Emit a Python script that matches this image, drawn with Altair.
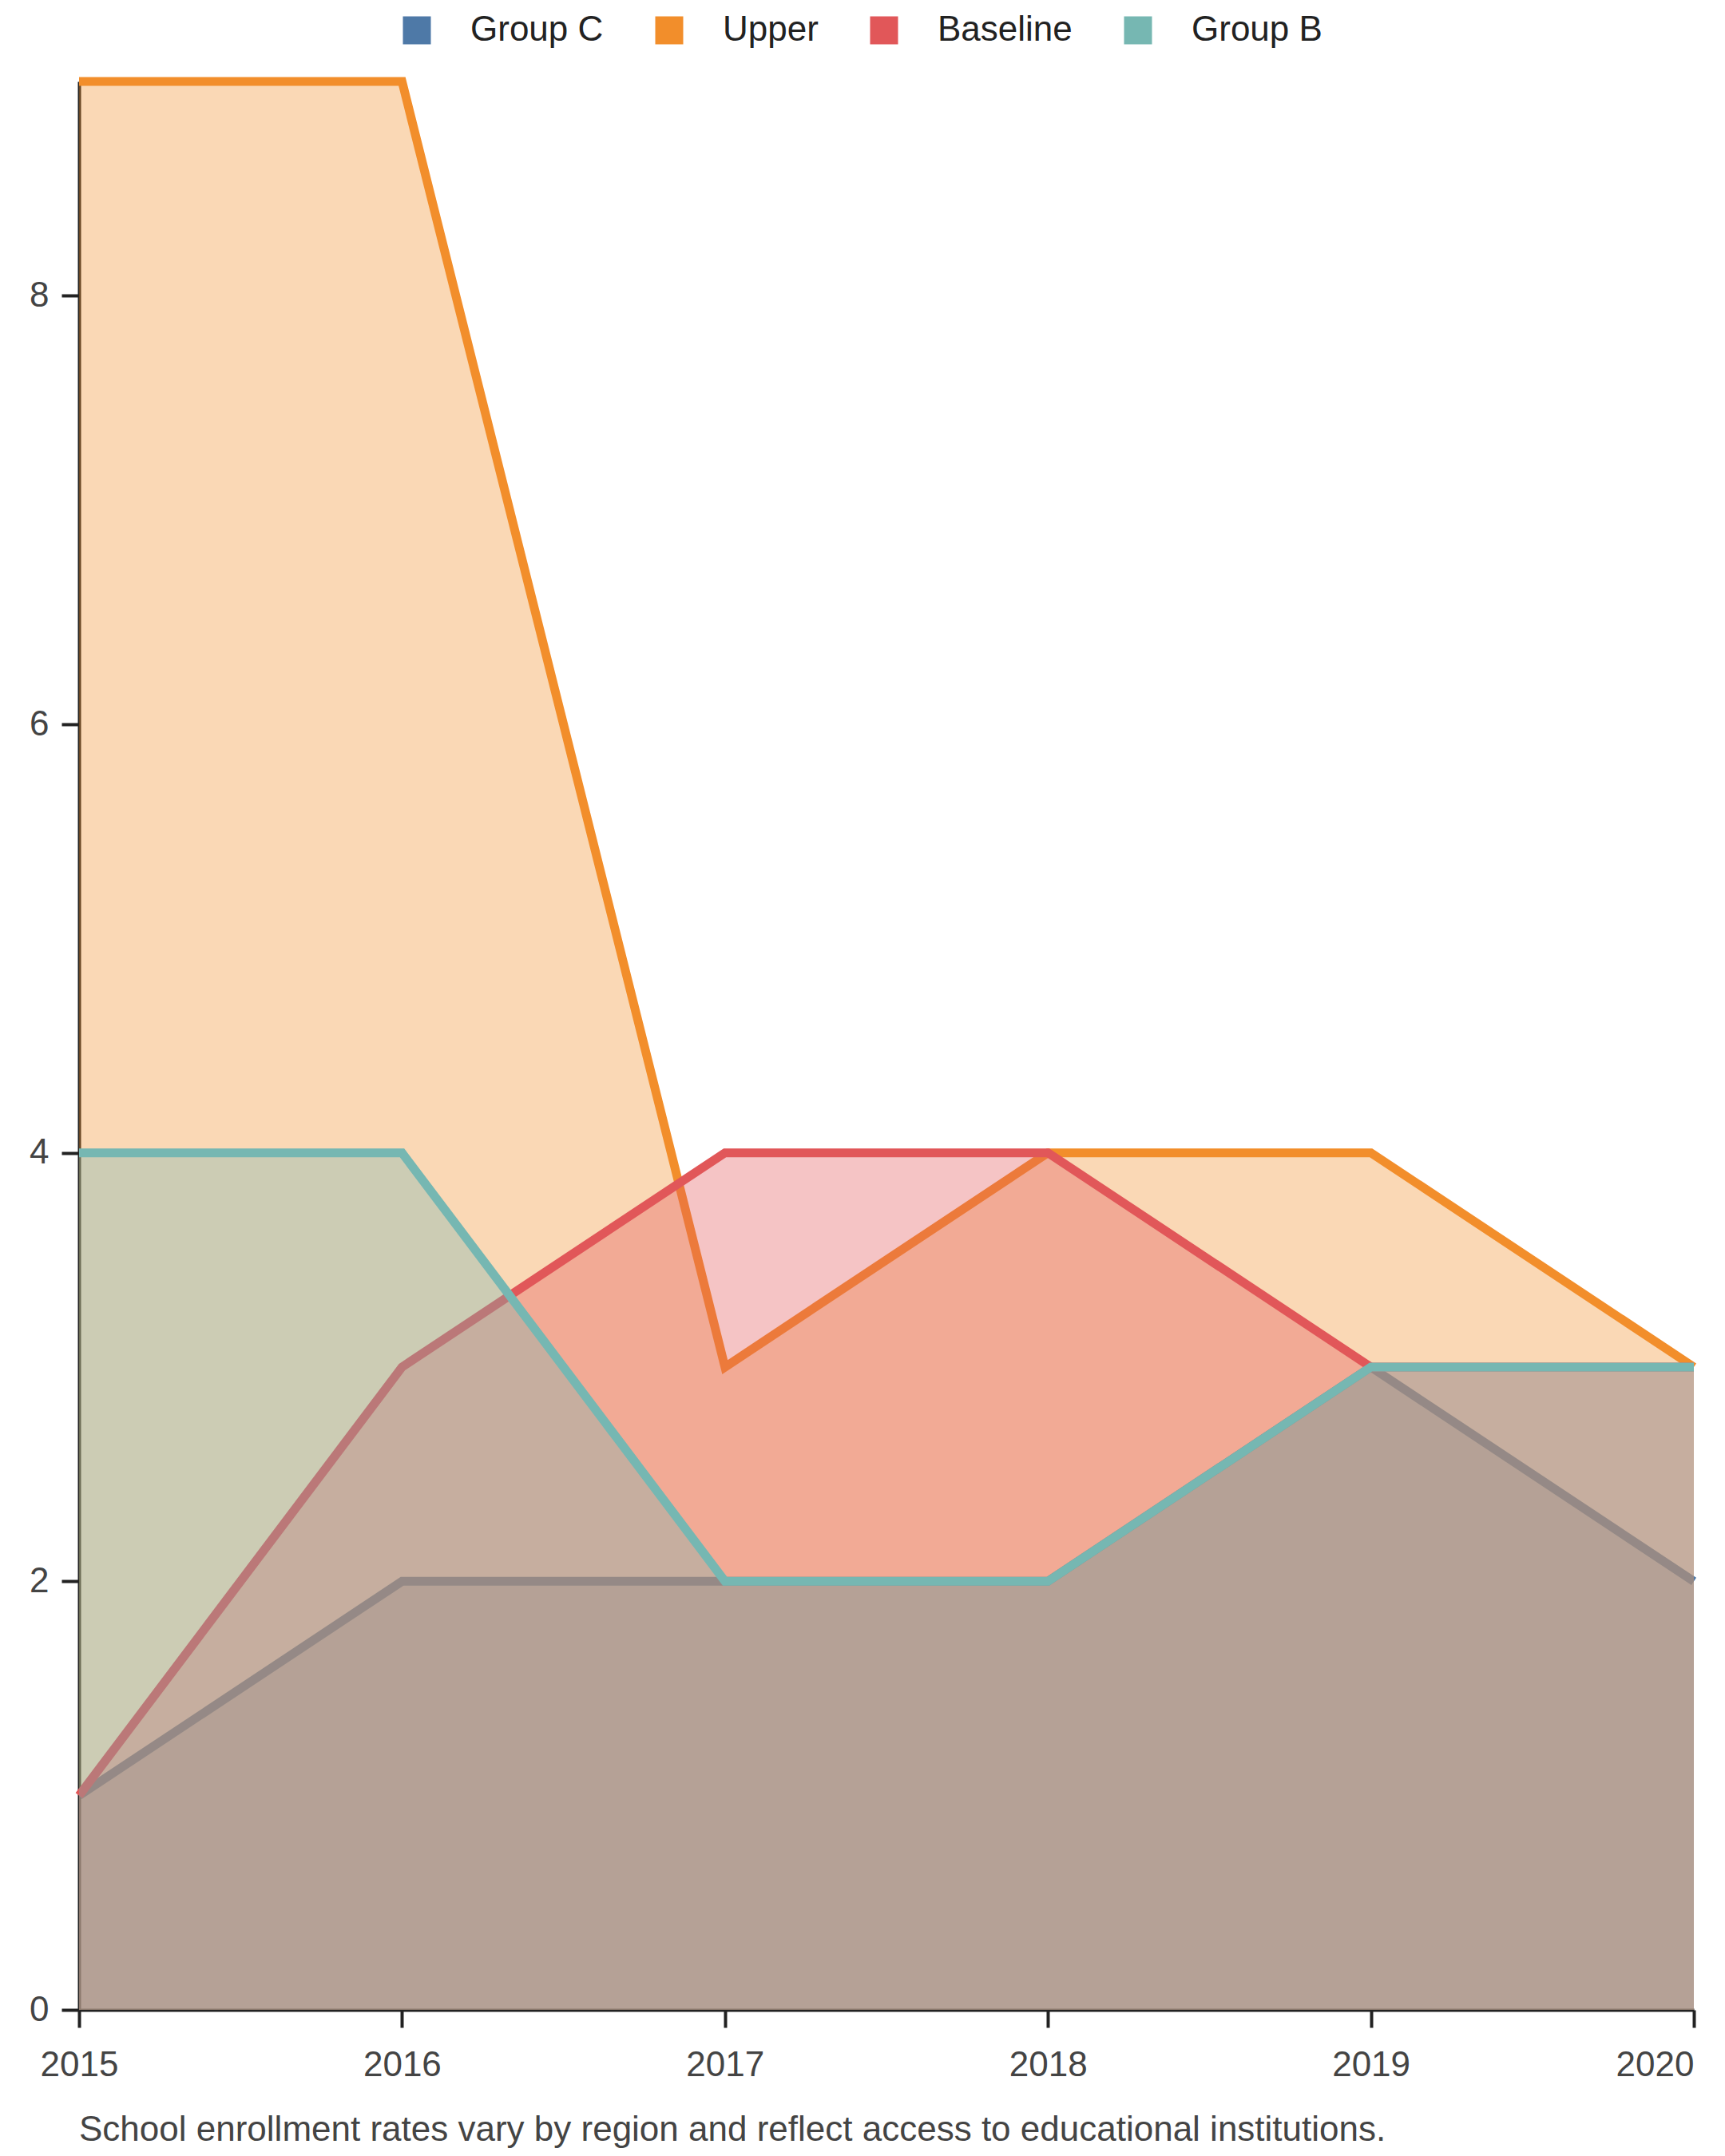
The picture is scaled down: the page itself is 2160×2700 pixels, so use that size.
import altair as alt
import pandas as pd

years = [2015, 2016, 2017, 2018, 2019, 2020]
series_names = ["Group C", "Upper", "Baseline", "Group B"]
group_c = [1, 2, 2, 2, 3, 2]
upper = [9, 9, 3, 4, 4, 3]
baseline = [1, 3, 4, 4, 3, 3]
group_b = [4, 4, 2, 2, 3, 3]
colors = ["#4e79a7", "#f28e2b", "#e15759", "#76b7b2"]
y_ticks = [0, 2, 4, 6, 8]
caption = "School enrollment rates vary by region and reflect access to educational institutions."

rows = []
for name, vals in zip(series_names, [group_c, upper, baseline, group_b]):
    for yr, v in zip(years, vals):
        rows.append({"year": yr, "value": v, "series": name})
df = pd.DataFrame(rows)

FONT = "Liberation Sans"
FS = 44

x = alt.X(
    "year:Q",
    scale=alt.Scale(domain=[years[0], years[-1]], nice=False, zero=False),
    axis=alt.Axis(
        values=years, format="d", title=None, grid=False,
        labelFontSize=FS, labelColor="#444", labelFont=FONT,
        labelPadding=25, tickSize=22, tickWidth=4, tickColor="#222",
        domainColor="#222", domainWidth=4,
        labelAlign={"expr": "datum.value == 2020 ? 'right' : 'center'"},
    ),
)
y = alt.Y(
    "value:Q",
    scale=alt.Scale(domain=[0, 9], nice=False),
    axis=alt.Axis(
        values=y_ticks, title=None, grid=False,
        labelFontSize=FS, labelColor="#444", labelFont=FONT,
        labelPadding=16, tickSize=22, tickWidth=4, tickColor="#222",
        domainColor="#222", domainWidth=4,
    ),
)
fill = alt.Fill(
    "series:N",
    scale=alt.Scale(domain=series_names, range=colors),
    legend=alt.Legend(
        title=None, orient="none", direction="horizontal",
        legendX=401, legendY=-86,
        symbolType="square", symbolSize=1225, symbolOpacity=1,
        symbolStrokeWidth=0, labelLimit=0,
        labelFontSize=FS, labelColor="#222", labelFont=FONT,
        labelOffset=45, columnPadding=60,
    ),
)
stroke = alt.Stroke(
    "series:N",
    scale=alt.Scale(domain=series_names, range=colors),
    legend=None,
)

layers = []
for name in series_names:
    base = alt.Chart(df).transform_filter(alt.datum.series == name)
    layers.append(base.mark_area(opacity=0.35).encode(x=x, y=y, fill=fill))
    layers.append(base.mark_line(strokeWidth=11).encode(x=x, y=y, stroke=stroke))

chart = alt.layer(*layers).properties(
    width=2022,
    height=2415,
    padding={"left": 28, "top": 8, "right": 0, "bottom": 6},
    title=alt.TitleParams(
        caption, orient="bottom", anchor="start", frame="group",
        fontSize=FS, color="#444", fontWeight="normal", font=FONT, offset=38,
    ),
).resolve_scale(fill="shared", stroke="shared").configure(font=FONT).configure_view(stroke=None)

chart.save("out.html", embed_options={"renderer": "svg", "actions": False})
